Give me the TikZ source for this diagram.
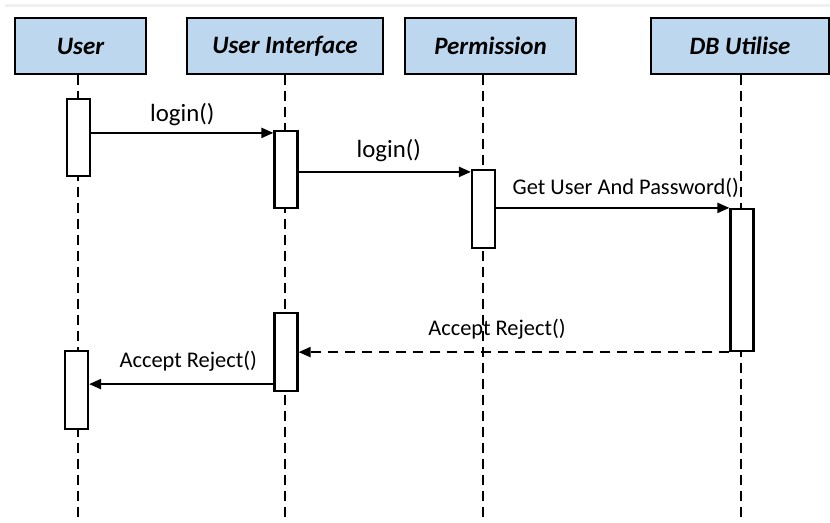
\documentclass[tikz,border=0pt]{standalone}
\usepackage{fontspec}
\setmainfont{Carlito}
\usetikzlibrary{arrows.meta}

\definecolor{headblue}{RGB}{189,215,238}

\begin{document}
\begin{tikzpicture}[x=0.5pt,y=-0.5pt,
                    head/.style={rectangle,draw,line width=1.1pt,fill=headblue,minimum height=28pt,
                                 font=\fontsize{12.5}{14}\selectfont\bfseries\itshape},
                    bar/.style={rectangle,draw,line width=1.1pt,fill=white,minimum width=11.5pt,inner sep=0pt},
                    life/.style={dash pattern=on 5pt off 3pt,line width=1.1pt},
                    msg/.style={-{Triangle[length=6pt,width=5pt]},line width=1.1pt},
                    reply/.style={msg,dash pattern=on 5pt off 3.5pt},
                    lbl/.style={font=\fontsize{11.2}{13}\selectfont,inner sep=2pt}]

        \useasboundingbox (0,0) rectangle (830,523);
        \draw[gray!12,line width=1.5pt] (5,6) -- (830,6);

        % actors
        \node[head,minimum width=65.5pt] (user) at (80.5,46) {User};
        \node[head,minimum width=98pt] (ui) at (285,46) {User Interface};
        \node[head,minimum width=85.5pt] (perm) at (490.5,46) {Permission};
        \node[head,minimum width=89pt] (db) at (740,46) {DB Utilise};

        % lifelines
        \coordinate (userbot) at (78,523);
        \coordinate (uibot) at (285,523);
        \coordinate (permbot) at (483,523);
        \coordinate (dbbot) at (741,523);
        \draw[life] (user.south -| userbot) -- (userbot);
        \draw[life] (ui.south -| uibot) -- (uibot);
        \draw[life] (perm.south -| permbot) -- (permbot);
        \draw[life] (db.south -| dbbot) -- (dbbot);

        % activations
        \node[bar,minimum height=38.5pt] (u1) at (78.5,137.5) {};
        \node[bar,minimum height=38.5pt] (ui1) at (286,169.5) {};
        \node[bar,minimum height=39pt] (p1) at (483.5,209) {};
        \node[bar,minimum height=71pt] (db1) at (742,280) {};
        \node[bar,minimum height=39pt] (ui2) at (286,352) {};
        \node[bar,minimum height=39pt] (u2) at (76.5,390) {};

        % messages
        \coordinate (m1) at ([yshift=-1.5pt]ui1.north west);
        \draw[msg] (u1.east |- m1) -- (m1) node[midway,above,lbl,font=\fontsize{12.4}{14}\selectfont,yshift=1pt] {login()};
        \coordinate (m2) at ([yshift=-1.5pt]p1.north west);
        \draw[msg] (ui1.east |- m2) -- (m2) node[midway,above,lbl,font=\fontsize{12.4}{14}\selectfont,yshift=2.5pt,xshift=2pt] {login()};
        \draw[msg] (p1.east |- db1.north west) -- (db1.north west) node[midway,above,lbl,xshift=6.5pt,yshift=2.5pt] {Get User And Password()};
        \draw[reply] (db1.south west) -- (ui2.east |- db1.south west) node[midway,above,lbl,xshift=-8.5pt,yshift=4pt] {Accept Reject()};
        \coordinate (m5) at ([yshift=4pt]ui2.south west);
        \draw[msg] (m5) -- (u2.east |- m5) node[midway,above,lbl,xshift=3.5pt,yshift=4pt] {Accept Reject()};
\end{tikzpicture}
\end{document}
